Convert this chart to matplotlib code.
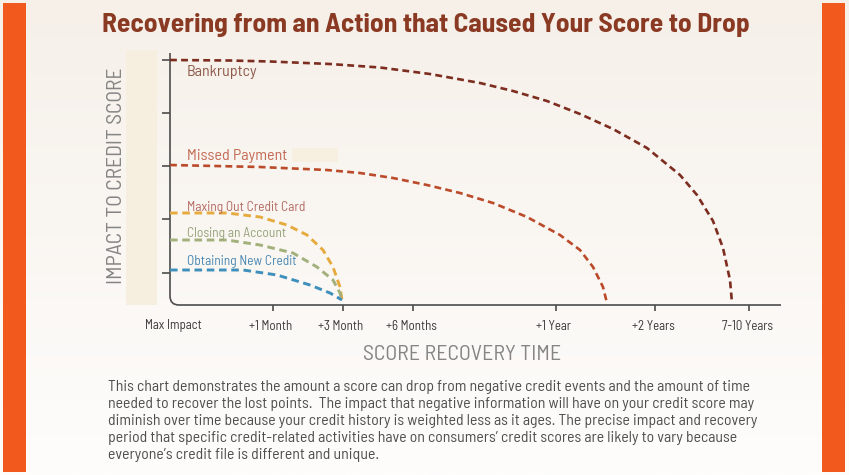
import numpy as np
import matplotlib
matplotlib.use("Agg")
import matplotlib.pyplot as plt
from matplotlib import font_manager
from matplotlib.path import Path
from matplotlib.patches import PathPatch, Rectangle

# ---------------- data ----------------
title = "Recovering from an Action that Caused Your Score to Drop"
xlabel = "SCORE RECOVERY TIME"
ylabel = "IMPACT TO CREDIT SCORE"

xtick_pos = [5, 102.5, 172.5, 243, 385.5, 485, 579]
xtick_labels = ["Max Impact", "+1 Month", "+3 Month", "+6 Months", "+1 Year", "+2 Years", "7-10 Years"]
xtick_marks = [102.5, 172.5, 243, 385.5, 485, 579]
ytick_pos = [32, 86, 139, 192, 245]

series_names = ["Bankruptcy", "Missed Payment", "Maxing Out Credit Card",
                "Closing an Account", "Obtaining New Credit"]

bank_x = [0, 60, 100, 160, 210, 260, 310, 343, 377, 410, 443, 477, 510, 527, 543, 553, 560, 562]
bank_y = [245, 244.5, 243.5, 241, 237.5, 231, 222, 214, 204, 191, 176, 157, 130, 110, 84, 57, 25, 2]

missed_x = [0, 90, 157, 190, 223, 257, 290, 323, 357, 390, 410, 423, 433, 437]
missed_y = [140, 138, 135, 132, 127, 120, 112, 102, 88, 70, 55, 38, 18, 2]

maxing_x = [0, 57, 90, 117, 137, 153, 163, 170, 172]
maxing_y = [92, 92, 88, 80, 70, 55, 38, 18, 5]

closing_x = [0, 57, 90, 123, 147, 163, 170, 172]
closing_y = [65, 65, 60, 52, 38, 25, 12, 5]

obtain_x = [0, 73, 107, 140, 160, 172]
obtain_y = [35, 35, 30, 20, 12, 5]

paragraph = [
    "This chart demonstrates the amount a score can drop from negative credit events and the amount of time",
    "needed to recover the lost points.  The impact that negative information will have on your credit score may",
    "diminish over time because your credit history is weighted less as it ages. The precise impact and recovery",
    "period that specific credit-related activities have on consumers\u2019 credit scores are likely to vary because",
    "everyone\u2019s credit file is different and unique.",
]

# ---------------- styling ----------------
W, H = 849, 475
names = {f.name for f in font_manager.fontManager.ttflist}
def pick(*cands):
    for c in cands:
        if c in names:
            return c
    return "DejaVu Sans"
BODY = pick("Barlow Semi Condensed", "Roboto Condensed", "Liberation Sans Narrow")
TITLEF = pick("Barlow Semi Condensed", "Roboto Condensed")
plt.rcParams["font.family"] = [BODY, "DejaVu Sans"]

def fx(px):
    return px / W

def fy(py):
    return 1 - py / H

fig = plt.figure(figsize=(W / 100, H / 100), dpi=100)

# background gradient
bg = fig.add_axes([0, 0, 1, 1])
bg.set_axis_off()
top = np.array([0xf6, 0xf0, 0xe9]) / 255
bot = np.array([0xfe, 0xfd, 0xfc]) / 255
t = np.linspace(0, 1, 200)[:, None]
grad = top[None, :] * (1 - t) + bot[None, :] * t
grad = np.repeat(grad[:, None, :], 2, axis=1)
bg.imshow(grad, aspect="auto", extent=[0, 1, 0, 1], origin="upper")
bg.set_xlim(0, 1)
bg.set_ylim(0, 1)

orange = "#f25a1d"
bg.add_patch(Rectangle((fx(3), fy(472)), fx(23), (472 - 3) / H, color=orange, lw=0))
bg.add_patch(Rectangle((fx(822), fy(472)), fx(23), (472 - 3) / H, color=orange, lw=0))
# cream band behind y label
bg.add_patch(Rectangle((fx(126), fy(305)), fx(31), (305 - 50) / H, color="#f6efdf", lw=0))

# main axes: 1 data unit = 1 pixel
ax = fig.add_axes([fx(170), fy(305), fx(781) - fx(170), (305 - 53) / H])
ax.set_xlim(0, 611)
ax.set_ylim(0, 252)
ax.patch.set_alpha(0)
for s in ax.spines.values():
    s.set_visible(False)

axis_col = "#4d4d4d"
r = 9
verts = [(0, 252), (0, r), (0, 0), (r, 0), (611, 0)]
codes = [Path.MOVETO, Path.LINETO, Path.CURVE3, Path.CURVE3, Path.LINETO]
ax.add_patch(PathPatch(Path(verts, codes), fill=False, edgecolor=axis_col, lw=1.2, clip_on=False))

ax.set_yticks(ytick_pos)
ax.set_yticklabels([])
ax.set_xticks(xtick_marks)
ax.set_xticklabels([])
ax.tick_params(axis="y", direction="out", length=5.5, width=1.2, color=axis_col)
ax.tick_params(axis="x", direction="out", length=4.5, width=1.2, color=axis_col)

ticktexts = []
for xp, lab in zip(xtick_pos, xtick_labels):
    ticktexts.append(ax.text(xp - 2, -21, lab, ha="center", va="center", fontsize=8,
                             color="#3a3a3a", clip_on=False))

colors = ["#7c2d1f", "#bb4a2a", "#e6ab3e", "#a2b07c", "#3f8fbd"]
label_colors = ["#8d5b4b", "#c46a55", "#b36a62", "#98a37a", "#4a88b3"]
xs = [bank_x, missed_x, maxing_x, closing_x, obtain_x]
ys = [bank_y, missed_y, maxing_y, closing_y, obtain_y]
lws = [1.9, 1.9, 2.1, 2.1, 2.1]
for x, y, c, lw in zip(xs, ys, colors, lws):
    ax.plot(x, y, color=c, lw=lw, dashes=(2.6, 1.6), dash_capstyle="butt", clip_on=False)

label_y = [233, 149, 98, 72, 43]
label_fs = [11, 11, 8.5, 8.5, 8.5]
labtexts = []
for name, ly, lc, fs in zip(series_names, label_y, label_colors, label_fs):
    labtexts.append(ax.text(17, ly, name, color=lc, fontsize=fs, ha="left", va="center"))

# redaction-like patch after "Missed Payment"
bg.add_patch(Rectangle((fx(292), fy(162)), fx(46), 14 / H, color="#f7efdf", lw=0, zorder=5))

# axis labels
xl = fig.text(fx(462), fy(355), xlabel, ha="center", va="center", fontsize=14, color="#858585")
yl = fig.text(fx(117), fy(176), ylabel, ha="center", va="center", fontsize=14, color="#858585",
              rotation=90)

# title
tt = fig.text(fx(426), fy(32), title, ha="center", va="baseline", fontsize=20,
              fontweight="bold", color="#8a3a23", family=[TITLEF, "DejaVu Sans"])

# paragraph
ptexts = []
line_y = [387, 404, 421, 438, 455]
for line, py in zip(paragraph, line_y):
    ptexts.append(fig.text(fx(108), fy(py), line, ha="left", va="center", fontsize=10.5,
                           color="#4f4f4f"))

# fit font sizes to the widths seen in the reference
fig.canvas.draw()
rend = fig.canvas.get_renderer()

def fit(texts, ref, target, vertical=False):
    ext = ref.get_window_extent(rend)
    size = ext.height if vertical else ext.width
    k = target / size
    for tx in texts:
        tx.set_fontsize(tx.get_fontsize() * k)

fit([tt], tt, 647)
fit(ptexts, ptexts[0], 644)
fit([xl], xl, 198)
fit([yl], yl, 217, vertical=True)
fit(ticktexts, ticktexts[0], 57)
fit(labtexts[:2], labtexts[0], 71)
fit(labtexts[2:], labtexts[2], 118)

fig.savefig("out.png", dpi=100)
